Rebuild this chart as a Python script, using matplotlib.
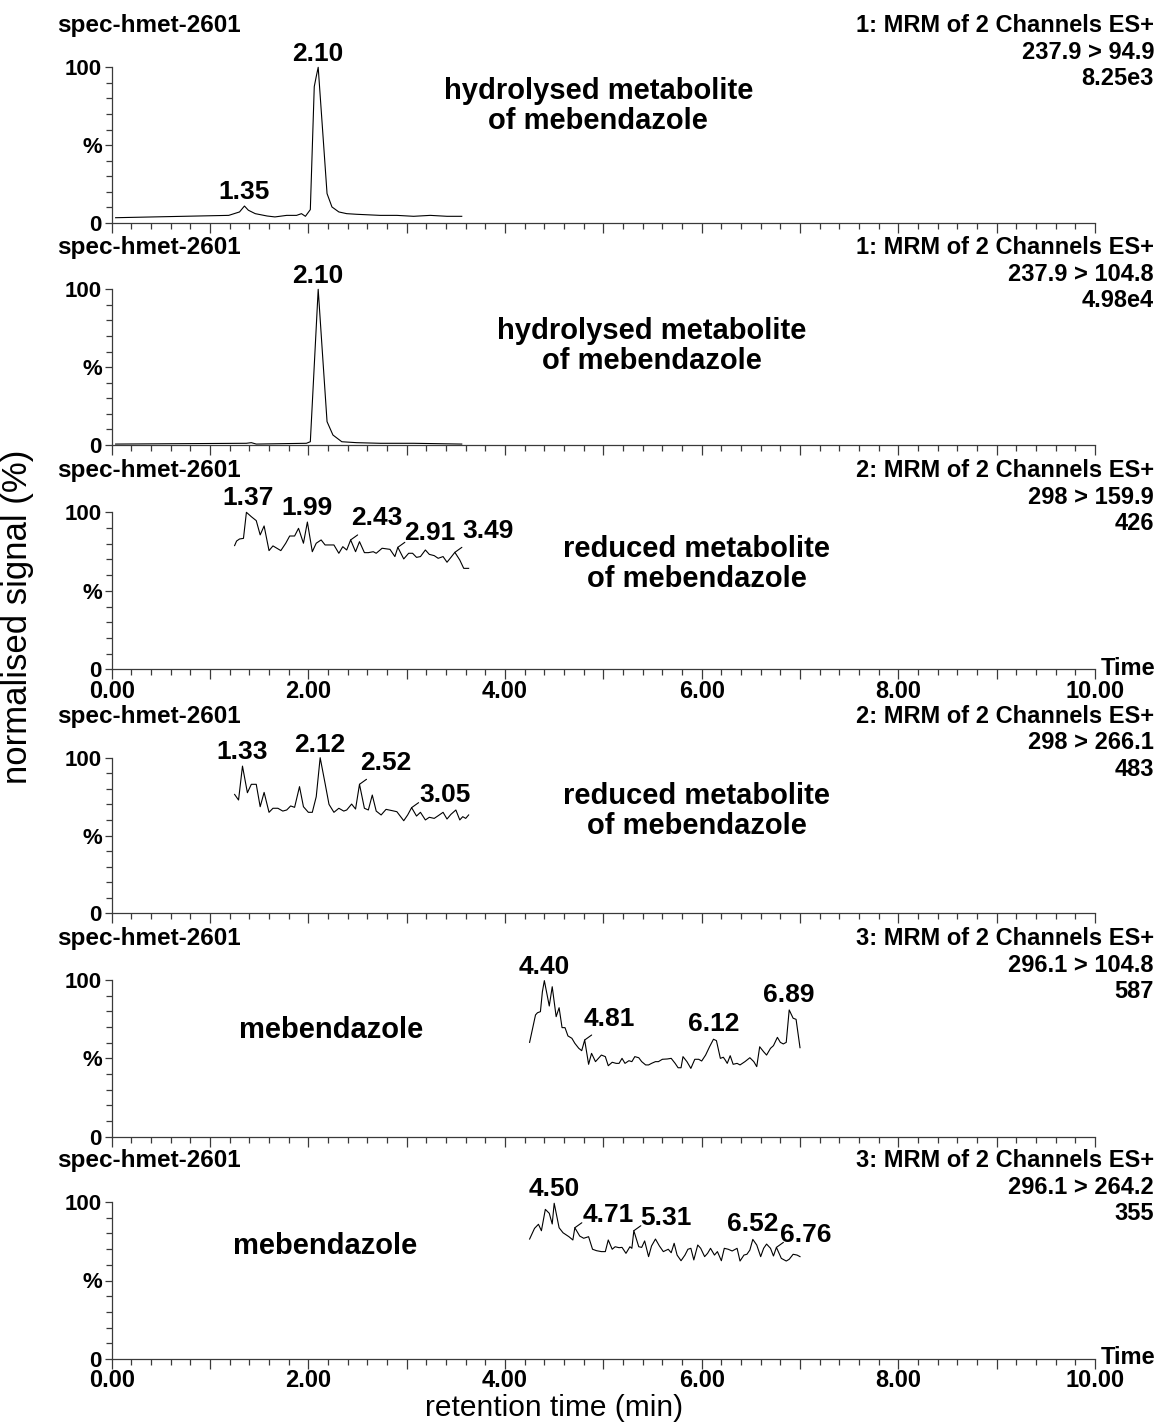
import matplotlib
matplotlib.use("Agg")
import matplotlib.pyplot as plt
import numpy as np
from matplotlib.ticker import MultipleLocator, FixedLocator, FixedFormatter, FuncFormatter

plt.rcParams['font.family'] = ['Liberation Sans', 'DejaVu Sans']

W, H = 1176, 1423
#%% data (time in min, signal in % of channel max)
sample = "spec-hmet-2601"
functions = ["1: MRM of 2 Channels ES+", "1: MRM of 2 Channels ES+",
             "2: MRM of 2 Channels ES+", "2: MRM of 2 Channels ES+",
             "3: MRM of 2 Channels ES+", "3: MRM of 2 Channels ES+"]
transitions = ["237.9 > 94.9", "237.9 > 104.8", "298 > 159.9",
               "298 > 266.1", "296.1 > 104.8", "296.1 > 264.2"]
intensities = ["8.25e3", "4.98e4", "426", "483", "587", "355"]
compounds = ["hydrolysed metabolite\nof mebendazole", "hydrolysed metabolite\nof mebendazole",
             "reduced metabolite\nof mebendazole", "reduced metabolite\nof mebendazole",
             "mebendazole", "mebendazole"]

t1 = [0.04, 1.19, 1.30, 1.35, 1.39, 1.46, 1.58, 1.66, 1.78, 1.88, 1.93, 1.97, 2.02,
      2.06, 2.08, 2.10, 2.15, 2.19, 2.24, 2.31, 2.39, 2.49, 2.73, 2.90, 3.07, 3.24,
      3.41, 3.56]
s1 = [3.4, 4.9, 7.1, 10.9, 8.2, 6.0, 4.5, 3.9, 4.9, 4.9, 6.0, 4.3, 8.6,
      87.6, 94, 100, 55, 18.9, 10.3, 7.1, 6.0, 5.6, 4.9, 4.9, 4.3, 4.9,
      4.3, 4.3]

t2 = [0.04, 1.37, 1.42, 1.47, 1.98, 2.02, 2.05, 2.08, 2.10, 2.14, 2.19, 2.25, 2.34,
      2.49, 2.73, 3.07, 3.56]
s2 = [0.6, 1.1, 1.5, 0.6, 1.1, 2.1, 38.8, 75.5, 100, 62, 15, 6.4, 2.1,
      1.5, 1.1, 1.1, 0.6]

t3 = [1.25, 1.27, 1.30, 1.34, 1.37, 1.42, 1.47, 1.51, 1.55, 1.60, 1.64, 1.68, 1.72,
      1.77, 1.81, 1.86, 1.90, 1.95, 1.99, 2.04, 2.08, 2.13, 2.17, 2.22, 2.26, 2.31,
      2.35, 2.39, 2.43, 2.48, 2.52, 2.57, 2.61, 2.66, 2.69, 2.75, 2.83, 2.88, 2.91,
      2.97, 3.02, 3.06, 3.10, 3.14, 3.19, 3.23, 3.28, 3.32, 3.37, 3.41, 3.45, 3.49,
      3.54, 3.58, 3.63]
s3 = [78.8, 81.7, 83.0, 83.4, 100, 97.2, 94.7, 85.6, 91.3, 75.6, 78.6, 77.1, 75.6,
      80.3, 84.9, 84.9, 89.8, 80.3, 93.8, 74.9, 80.3, 82.4, 79.2, 79.2, 79.2, 73.9,
      78.1, 76.0, 82.4, 74.9, 81.3, 74.3, 74.3, 74.9, 73.9, 77.1, 76.4, 71.8, 77.7,
      70.3, 73.9, 73.9, 71.3, 71.8, 76.0, 73.2, 72.4, 70.7, 71.8, 68.2, 71.3, 74.5,
      69.6, 64.3, 64.3]

t4 = [1.25, 1.29, 1.33, 1.38, 1.42, 1.47, 1.51, 1.55, 1.60, 1.64, 1.69, 1.74, 1.78,
      1.82, 1.86, 1.91, 1.95, 2.00, 2.04, 2.08, 2.12, 2.17, 2.21, 2.26, 2.31, 2.36,
      2.39, 2.44, 2.48, 2.52, 2.57, 2.61, 2.65, 2.69, 2.74, 2.79, 2.85, 2.90, 2.97,
      3.01, 3.05, 3.10, 3.14, 3.19, 3.23, 3.28, 3.32, 3.37, 3.41, 3.45, 3.50, 3.54,
      3.57, 3.60, 3.63]
s4 = [76.4, 72.8, 94.6, 77.5, 82.9, 82.9, 68.5, 77.7, 64.9, 67.5, 67.5, 65.7, 66.4,
      69.0, 68.1, 81.4, 68.5, 64.9, 64.9, 74.9, 100, 83.5, 70.0, 64.9, 67.5, 65.7,
      66.4, 70.2, 67.0, 82.9, 67.5, 66.4, 76.0, 65.7, 63.2, 66.8, 66.0, 65.3, 59.5,
      63.2, 67.9, 62.5, 64.9, 60.0, 61.7, 61.0, 62.7, 64.9, 60.6, 63.6, 66.4, 60.0,
      62.1, 61.0, 63.2]

t5 = [4.25, 4.31, 4.33, 4.36, 4.38, 4.40, 4.45, 4.48, 4.52, 4.55, 4.58, 4.61, 4.64,
      4.68, 4.71, 4.75, 4.78, 4.81, 4.85, 4.88, 4.92, 4.95, 4.98, 5.02, 5.05, 5.09,
      5.13, 5.16, 5.19, 5.22, 5.26, 5.29, 5.32, 5.36, 5.39, 5.43, 5.46, 5.49, 5.53,
      5.56, 5.60, 5.65, 5.69, 5.73, 5.76, 5.79, 5.81, 5.85, 5.89, 5.93, 5.97, 6.00,
      6.04, 6.08, 6.12, 6.15, 6.19, 6.22, 6.24, 6.26, 6.29, 6.32, 6.36, 6.39, 6.44,
      6.49, 6.53, 6.56, 6.59, 6.63, 6.66, 6.70, 6.73, 6.77, 6.80, 6.83, 6.86, 6.89,
      6.93, 6.96, 7.00]
s5 = [60.2, 77.7, 79.1, 79.8, 92.5, 99.6, 83.4, 95.7, 76.6, 82.3, 69.6, 69.6, 64.3,
      62.8, 59.6, 56.4, 54.9, 61.7, 46.2, 53.2, 47.9, 50.0, 52.1, 51.1, 45.3, 47.5,
      46.8, 46.8, 50.0, 46.8, 48.5, 47.9, 51.1, 50.4, 47.9, 45.8, 45.8, 46.8, 47.9,
      47.9, 49.4, 49.6, 50.0, 46.8, 44.0, 44.0, 51.1, 47.9, 43.6, 49.4, 49.4, 48.3,
      52.1, 57.4, 62.2, 61.3, 50.0, 50.7, 48.9, 46.8, 51.7, 46.2, 46.8, 45.8, 47.9,
      50.4, 47.9, 44.7, 57.4, 54.2, 52.1, 56.4, 58.1, 63.4, 60.2, 59.2, 60.2, 80.9,
      75.6, 74.9, 56.8]

t6 = [4.25, 4.30, 4.34, 4.37, 4.41, 4.45, 4.48, 4.50, 4.55, 4.59, 4.65, 4.69, 4.71,
      4.76, 4.80, 4.85, 4.89, 4.93, 4.98, 5.02, 5.05, 5.09, 5.12, 5.16, 5.19, 5.23,
      5.27, 5.29, 5.31, 5.36, 5.39, 5.42, 5.46, 5.49, 5.53, 5.57, 5.61, 5.66, 5.69,
      5.72, 5.75, 5.79, 5.83, 5.86, 5.89, 5.92, 5.96, 5.99, 6.03, 6.06, 6.09, 6.13,
      6.16, 6.20, 6.23, 6.27, 6.31, 6.36, 6.39, 6.43, 6.46, 6.49, 6.52, 6.56, 6.60,
      6.63, 6.66, 6.70, 6.73, 6.76, 6.81, 6.86, 6.89, 6.93, 6.97, 7.00]
s6 = [76.4, 83.2, 85.8, 81.7, 95.3, 92.8, 86.0, 99.2, 83.6, 80.4, 77.9, 75.8, 83.6,
      78.3, 76.9, 77.9, 69.9, 69.0, 68.4, 68.4, 75.8, 69.9, 71.5, 70.9, 71.1, 67.3,
      71.5, 70.5, 81.7, 71.5, 71.1, 75.2, 65.2, 72.0, 76.4, 72.0, 68.4, 69.9, 67.7,
      73.7, 66.2, 62.6, 66.2, 69.9, 70.5, 63.1, 72.6, 70.5, 65.2, 67.3, 70.5, 66.2,
      68.4, 62.6, 70.5, 69.9, 68.8, 70.5, 62.4, 66.2, 66.7, 69.4, 76.2, 72.6, 65.2,
      70.5, 73.2, 70.5, 65.6, 71.1, 64.1, 62.4, 63.5, 66.7, 66.2, 65.2]

times = [t1, t2, t3, t4, t5, t6]
signals = [s1, s2, s3, s4, s5, s6]
peak_labels = [["1.35", "2.10"],
               ["2.10"],
               ["1.37", "1.99", "2.43", "2.91", "3.49"],
               ["1.33", "2.12", "2.52", "3.05"],
               ["4.40", "4.81", "6.12", "6.89"],
               ["4.50", "4.71", "5.31", "6.52", "6.76"]]

#%% layout (pixels of the 1176x1423 canvas)
x_left, x_right = 111.7, 1095.0
panel_px = [(67.3, 223.0), (289.3, 445.0), (512.3, 669.3),
            (757.7, 913.3), (980.0, 1136.7), (1202.0, 1359.0)]
show_xlabels = [False, False, True, False, False, True]
# label offset (px) from the peak apex, and whether a leader line is drawn
label_offsets = [[(0, 7, False), (0, 6, False)],
                 [(0, 6, False)],
                 [(2, 7, False), (0, 7, False), (26, 15, True), (32, 7, True), (33, 14, True)],
                 [(0, 7, False), (0, 6, False), (26, 14, True), (33, 6, True)],
                 [(0, 7, False), (25, 14, True), (0, 8, False), (0, 8, False)],
                 [(0, 7, False), (33, 6, True), (32, 6, True), (0, 8, False), (29, 5, True)]]
compound_pos = [(4.95, 75), (5.49, 63.5), (5.95, 67), (5.95, 66), (2.23, 68), (2.17, 72)]

axis_col = '#3a3a3a'
fig = plt.figure(figsize=(W / 100, H / 100), dpi=100)

for i in range(6):
    y100, y0 = panel_px[i]
    ax = fig.add_axes([x_left / W, 1 - y0 / H, (x_right - x_left) / W, (y0 - y100) / H])
    t = np.array(times[i])
    s = np.array(signals[i])
    ax.plot(t, s, color='k', lw=0.8, clip_on=False)
    ax.set_xlim(0, 10)
    ax.set_ylim(0, 100)
    ax.set_facecolor('none')
    for sp in ['top', 'right']:
        ax.spines[sp].set_visible(False)
    for sp in ['left', 'bottom']:
        ax.spines[sp].set_color(axis_col)
        ax.spines[sp].set_linewidth(0.9)

    ax.yaxis.set_major_locator(FixedLocator([0, 50, 100]))
    ax.yaxis.set_major_formatter(FixedFormatter(['0', '%', '100']))
    ax.yaxis.set_minor_locator(MultipleLocator(10))
    ax.xaxis.set_major_locator(MultipleLocator(1))
    ax.xaxis.set_minor_locator(MultipleLocator(0.2))
    if show_xlabels[i]:
        ax.xaxis.set_major_formatter(FuncFormatter(
            lambda v, p: "%.2f" % v if int(round(v)) % 2 == 0 else ""))
    else:
        ax.xaxis.set_major_formatter(FuncFormatter(lambda v, p: ""))
    ax.tick_params(axis='y', which='major', length=5, width=0.9, color=axis_col,
                   pad=2, labelsize=16)
    ax.tick_params(axis='y', which='minor', length=4, width=0.9, color=axis_col)
    ax.tick_params(axis='x', which='major', length=7, width=0.9, color=axis_col,
                   pad=0.5, labelsize=17)
    ax.tick_params(axis='x', which='minor', length=4, width=0.9, color=axis_col)
    for lab in ax.get_xticklabels() + ax.get_yticklabels():
        lab.set_fontweight('bold')

    # peak annotations
    for lab, (dx, dy, leader) in zip(peak_labels[i], label_offsets[i]):
        k = np.argmin(np.abs(t - float(lab)))
        ax.annotate(lab, xy=(t[k], s[k]), xytext=(dx, dy), textcoords='offset pixels',
                    ha='center', va='baseline', fontsize=19, fontweight='bold',
                    annotation_clip=False)
        if leader:
            ax.annotate('', xy=(t[k], s[k]), xytext=(7, 5), textcoords='offset pixels',
                        arrowprops=dict(arrowstyle='-', color='k', lw=0.8,
                                        shrinkA=0, shrinkB=0),
                        annotation_clip=False)

    cx, cy = compound_pos[i]
    ax.text(cx, cy, compounds[i], ha='center', va='center', fontsize=21,
            fontweight='bold', linespacing=1.1)

    # header lines
    fig.text(57 / W, 1 - (y100 - 35) / H, sample, ha='left', va='baseline',
             fontsize=17.5, fontweight='bold')
    for j, txt in enumerate([functions[i], transitions[i], intensities[i]]):
        fig.text(1154 / W, 1 - (y100 - 35 + 26.5 * j) / H, txt, ha='right',
                 va='baseline', fontsize=17, fontweight='bold')
    if show_xlabels[i]:
        fig.text(1101 / W, 1 - (y0 - 1) / H, "Time", ha='left', va='center',
                 fontsize=17, fontweight='bold')

fig.text(18 / W, 1 - 617 / H, "normalised signal (%)", rotation=90,
         ha='center', va='center', fontsize=25)
fig.text(554 / W, 1 - 1408 / H, "retention time (min)", ha='center',
         va='center', fontsize=21.5)

fig.savefig("out.png", dpi=100)
